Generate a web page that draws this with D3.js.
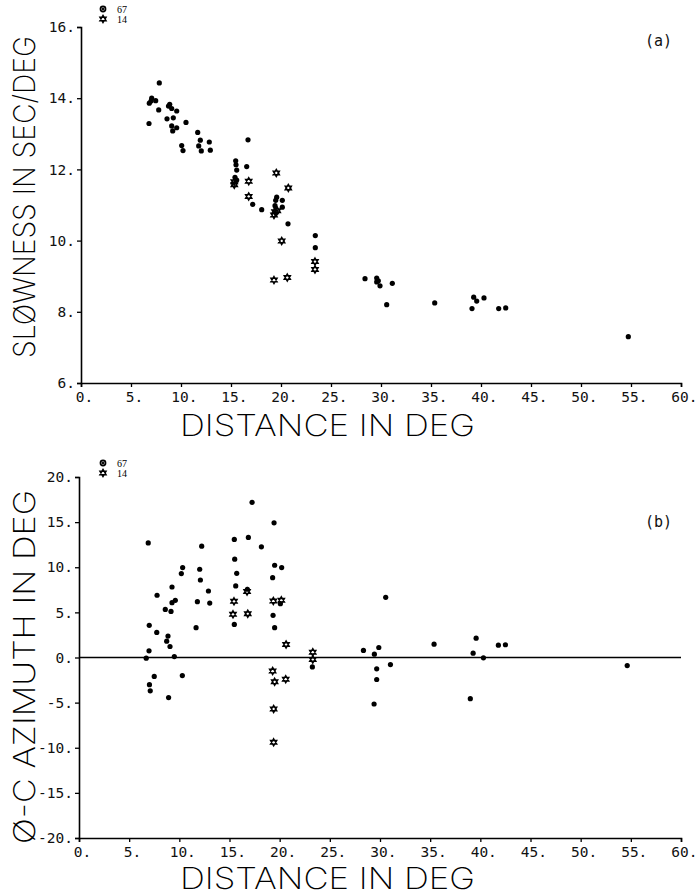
<!DOCTYPE html>
<html><head><meta charset="utf-8">
<script src="https://cdn.jsdelivr.net/npm/d3@7"></script>
<style>body{margin:0;background:#fff}</style></head>
<body><svg id="c" width="698" height="895"></svg>
<script>
const xTicks = [0,5,10,15,20,25,30,35,40,45,50,55,60];
const slowTicks = [6,8,10,12,14,16];
const azTicks = [-20,-15,-10,-5,0,5,10,15,20];
const legendCounts = ["67","14"];

const slownessDots = [
 [7.83,14.43],[7.07,14.0],[6.83,13.86],[7.47,13.93],[7.0,13.92],[7.77,13.67],[6.8,13.29],
 [8.87,13.83],[8.75,13.78],[9.07,13.71],[9.57,13.64],[8.6,13.42],[9.23,13.45],[9.07,13.22],
 [9.57,13.17],[9.17,13.08],[10.5,13.32],[11.67,13.04],[10.07,12.67],[10.2,12.53],[11.93,12.82],
 [11.77,12.66],[12.03,12.52],[12.83,12.77],[12.93,12.54],[16.7,12.83],[15.47,12.24],[15.5,12.13],
 [16.57,12.08],[15.57,11.98],[15.4,11.78],[15.57,11.70],[17.17,11.02],[18.07,10.87],[19.57,11.22],
 [19.47,11.13],[20.13,11.13],[20.13,10.94],[19.4,10.98],[20.7,10.47],[23.43,10.14],[23.43,9.80],
 [28.4,8.93],[29.57,8.95],[29.73,8.87],[29.57,8.84],[29.9,8.73],[31.13,8.80],[30.57,8.2],
 [35.37,8.25],[39.27,8.41],[39.57,8.30],[40.3,8.39],[39.1,8.09],[41.77,8.09],[42.47,8.11],[54.73,7.30]
];
const slownessStars = [
 [15.33,11.65],[15.33,11.57],[16.77,11.67],[16.77,11.24],[19.53,11.9],[20.73,11.48],[19.4,10.81],
 [19.3,10.72],[19.63,10.84],[20.07,9.99],[19.3,8.89],[20.63,8.96],[23.4,9.41],[23.4,9.19]
];
const azimuthDots = [
 [6.9,12.7],[7.78,6.9],[7.0,3.56],[7.75,2.78],[6.98,0.74],[6.7,-0.07],[8.6,5.33],[9.17,5.1],
 [9.27,7.81],[9.27,6.07],[9.6,6.33],[8.87,2.37],[8.74,1.81],[9.07,1.22],[9.5,0.1],[10.2,9.3],
 [10.33,9.96],[12.23,12.33],[12.03,9.78],[12.1,8.59],[12.9,7.37],[11.8,6.19],[13.03,6.03],[11.67,3.3],
 [15.48,13.08],[16.88,13.3],[17.25,17.19],[18.18,12.26],[19.44,14.92],[15.52,10.89],[15.72,9.33],
 [15.62,7.93],[16.78,7.56],[15.48,3.67],[19.5,10.22],[20.2,9.96],[19.3,8.85],[20.07,5.96],[19.34,4.67],
 [19.5,3.3],[23.26,-1.04],[28.35,0.78],[29.44,0.37],[29.88,1.11],[29.67,-1.26],[29.67,-2.44],
 [29.41,-5.15],[30.57,6.67],[31.04,-0.78],[35.39,1.48],[39.58,2.14],[39.28,0.48],[40.31,-0.04],
 [39.0,-4.56],[41.8,1.37],[42.5,1.41],[54.64,-0.89],[7.02,-3.01],[7.1,-3.69],[8.93,-4.44],
 [10.3,-2.0],[7.5,-2.1]
];
const azimuthStars = [
 [15.45,6.22],[15.35,4.78],[16.82,4.85],[16.75,7.3],[19.37,6.26],[20.17,6.33],[20.64,1.44],
 [23.3,0.59],[23.3,-0.22],[19.3,-1.5],[19.5,-2.7],[20.6,-2.4],[19.4,-5.7],[19.4,-9.4]
];

const svg = d3.select("#c");
const tickFont = "'DejaVu Sans Mono', monospace";
const titleFont = "Inter, Roboto, 'DejaVu Sans', sans-serif";

function starPath(s){
  const r = s, pts1=[], pts2=[];
  for(let i=0;i<3;i++){
    const a1 = -Math.PI/2 + i*2*Math.PI/3, a2 = Math.PI/2 + i*2*Math.PI/3;
    pts1.push([r*Math.cos(a1), r*Math.sin(a1)]);
    pts2.push([r*Math.cos(a2), r*Math.sin(a2)]);
  }
  const f = p => "M"+p.map(q=>q[0].toFixed(2)+","+q[1].toFixed(2)).join("L")+"Z";
  return f(pts1)+f(pts2);
}

function panel(cfg){
  const x = d3.scaleLinear().domain([0,60]).range(cfg.xr);
  const y = d3.scaleLinear().domain(cfg.yd).range(cfg.yr);
  const g = svg.append("g");
  const ya = g.append("g").attr("transform",`translate(${cfg.xr[0]},0)`)
    .call(d3.axisLeft(y).tickValues(cfg.yTicks).tickSize(4).tickPadding(2).tickFormat(d=>d+"."));
  const xa = g.append("g").attr("transform",`translate(0,${cfg.yr[0]})`)
    .call(d3.axisBottom(x).tickValues(xTicks).tickSize(4).tickPadding(5).tickFormat(d=>d+"."));
  [ya,xa].forEach(a=>{
    a.select(".domain").attr("stroke","#000").attr("stroke-width",1.6);
    a.selectAll(".tick line").attr("stroke","#000").attr("stroke-width",1.3);
    a.selectAll("text").attr("font-family",tickFont).attr("font-size",14.5).attr("fill","#111");
  });
  xa.selectAll(".tick text").attr("dx","0.2em");
  if(cfg.zero){
    g.append("line").attr("x1",x(0)).attr("x2",x(60)).attr("y1",y(0)).attr("y2",y(0))
      .attr("stroke","#000").attr("stroke-width",1.6);
  }
  g.selectAll("circle.d").data(cfg.dots).join("circle").attr("class","d")
    .attr("cx",d=>x(d[0])).attr("cy",d=>y(d[1])).attr("r",2.6).attr("fill","#000");
  g.selectAll("path.s").data(cfg.stars).join("path").attr("class","s")
    .attr("transform",d=>`translate(${x(d[0])},${y(d[1])})`)
    .attr("d",starPath(3.6)).attr("fill","none").attr("stroke","#000").attr("stroke-width",1.4);
  const lx = 103, ly = cfg.legendY;
  g.append("circle").attr("cx",lx).attr("cy",ly).attr("r",3.4).attr("fill","#000");
  g.append("circle").attr("cx",lx).attr("cy",ly).attr("r",1.6).attr("fill","none").attr("stroke","#888").attr("stroke-width",0.8);
  g.append("path").attr("transform",`translate(${lx},${ly+10})`).attr("d",starPath(3.6))
    .attr("fill","none").attr("stroke","#000").attr("stroke-width",1.4);
  g.selectAll("text.lg").data(legendCounts).join("text").attr("class","lg")
    .attr("x",117).attr("y",(d,i)=>ly+3.5+i*10).text(d=>d)
    .attr("font-family","'Liberation Serif', serif").attr("font-size",10).attr("fill","#000");
  g.append("text").attr("x",cfg.labelPos[0]).attr("y",cfg.labelPos[1]).text(cfg.label)
    .attr("font-family",tickFont).attr("font-size",15).attr("fill","#111");
  g.append("text").attr("x",180).attr("y",cfg.xTitleY).text("DISTANCE IN DEG")
    .attr("font-family",titleFont).attr("font-weight",200).attr("font-size",30)
    .attr("textLength",295).attr("lengthAdjust","spacingAndGlyphs").attr("fill","#000");
  g.append("text").attr("transform",`translate(35,${cfg.yTitle[0]}) rotate(-90)`).text(cfg.yTitleText)
    .attr("font-family",titleFont).attr("font-weight",200).attr("font-size",30)
    .attr("textLength",cfg.yTitle[1]).attr("lengthAdjust","spacingAndGlyphs").attr("fill","#000");
}

panel({xr:[81,681], yd:[6,16], yr:[383,27], yTicks:slowTicks, dots:slownessDots, stars:slownessStars,
  legendY:9, label:"(a)", labelPos:[645,46], xTitleY:436, yTitle:[358,322], yTitleText:"SLØWNESS IN SEC/DEG", zero:false});
panel({xr:[79,681], yd:[-20,20], yr:[838,477], yTicks:azTicks, dots:azimuthDots, stars:azimuthStars,
  legendY:463, label:"(b)", labelPos:[645,527], xTitleY:889, yTitle:[844,354], yTitleText:"Ø-C AZIMUTH IN DEG", zero:true});
</script></body></html>
